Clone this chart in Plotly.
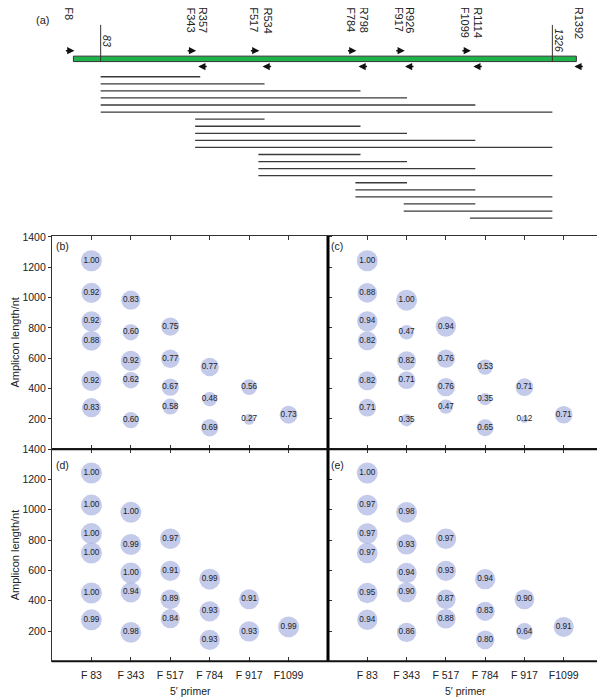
import math
import plotly.graph_objects as go

# The page body has an 8px margin, so the figure is drawn 8px right/down.
OFF = 8
W, H = 605 - OFF, 698 - OFF

# ---------------- data ----------------
fwd_names = ["F8", "F343", "F517", "F784", "F917", "F1099"]
fwd_pos = [8, 343, 517, 784, 917, 1099]
rev_names = ["R357", "R534", "R798", "R926", "R1114", "R1392"]
rev_pos = [357, 534, 798, 926, 1114, 1392]
amp_start = [83, 343, 517, 784, 917, 1099]          # 5' ends of amplicons
amp_end = [357, 534, 798, 926, 1114, 1326]          # 3' ends of amplicons
marker_pos = [83, 1326]
gene_span = [8, 1392]

categories = ["F 83", "F 343", "F 517", "F 784", "F 917", "F1099"]
y_ticks = [200, 400, 600, 800, 1000, 1200, 1400]

# values per 5' primer, amplicons from longest to shortest
vals_b = [[1.00, 0.92, 0.92, 0.88, 0.92, 0.83],
          [0.83, 0.60, 0.92, 0.62, 0.60],
          [0.75, 0.77, 0.67, 0.58],
          [0.77, 0.48, 0.69],
          [0.56, 0.27],
          [0.73]]
vals_c = [[1.00, 0.88, 0.94, 0.82, 0.82, 0.71],
          [1.00, 0.47, 0.82, 0.71, 0.35],
          [0.94, 0.76, 0.76, 0.47],
          [0.53, 0.35, 0.65],
          [0.71, 0.12],
          [0.71]]
vals_d = [[1.00, 1.00, 1.00, 1.00, 1.00, 0.99],
          [1.00, 0.99, 1.00, 0.94, 0.98],
          [0.97, 0.91, 0.89, 0.84],
          [0.99, 0.93, 0.93],
          [0.91, 0.93],
          [0.99]]
vals_e = [[1.00, 0.97, 0.97, 0.97, 0.95, 0.94],
          [0.98, 0.93, 0.94, 0.90, 0.86],
          [0.97, 0.93, 0.87, 0.88],
          [0.94, 0.83, 0.80],
          [0.90, 0.64],
          [0.91]]

# ---------------- helpers ----------------
FONT = "Liberation Sans, Arial, sans-serif"
TXT = "#222222"


def fx(px):  # window pixel -> paper fraction
    return (px - OFF) / W


def fy(py):
    return 1 - (py - OFF) / H


# schematic axis mapping (window pixels <-> nt)
SX0, SXK = 70.5, 0.3634
ROW0, ROWK = 71.3, 7.13


def row(py):
    return (py - ROW0) / ROWK


def note(px, py, text, size=10.5, angle=0):
    return dict(x=fx(px), y=fy(py), xref="paper", yref="paper", text=text,
                textangle=angle, showarrow=False, xanchor="center", yanchor="middle",
                font=dict(size=size, color=TXT, family=FONT))


fig = go.Figure()

# ---------------- panel (a) ----------------
amp_rows = []
for i, s in enumerate(amp_start):
    for j, e in enumerate(amp_end):
        if j >= i:
            amp_rows.append((s, e))

for k, (s, e) in enumerate(amp_rows):
    fig.add_trace(go.Scatter(x=[s, e], y=[k, k], mode="lines",
                             line=dict(color="#3a3a3a", width=1.3),
                             xaxis="x", yaxis="y", hoverinfo="skip"))

shapes = []
shapes.append(dict(type="rect", xref="x", yref="y", x0=gene_span[0], x1=gene_span[1],
                   y0=row(50.5), y1=row(56), fillcolor="#1db34a",
                   line=dict(color="#333333", width=1), layer="above"))
for m in marker_pos:
    shapes.append(dict(type="line", xref="x", yref="y", x0=m, x1=m,
                       y0=row(19), y1=row(56), line=dict(color="#333333", width=1),
                       layer="above"))

annotations = []
LBL_TOP = fy(-1)
for n, p in zip(fwd_names, fwd_pos):
    annotations.append(dict(x=p, xshift=1, y=row(45), xref="x", yref="y",
                            ax=-10, ay=0, text="", showarrow=True, arrowhead=2,
                            arrowsize=0.9, arrowwidth=1.6, arrowcolor="#111", standoff=0))
    annotations.append(dict(x=p, xshift=-4, y=LBL_TOP, xref="x", yref="paper", text=n,
                            textangle=90, showarrow=False, yanchor="top", xanchor="center",
                            font=dict(size=11, color=TXT, family=FONT)))
for n, p in zip(rev_names, rev_pos):
    annotations.append(dict(x=p, xshift=-2, y=row(61), xref="x", yref="y",
                            ax=10, ay=0, text="", showarrow=True, arrowhead=2,
                            arrowsize=0.9, arrowwidth=1.6, arrowcolor="#111", standoff=0))
    annotations.append(dict(x=p, xshift=3, y=LBL_TOP, xref="x", yref="paper", text=n,
                            textangle=90, showarrow=False, yanchor="top", xanchor="center",
                            font=dict(size=11, color=TXT, family=FONT)))
for m in marker_pos:
    annotations.append(dict(x=m, xshift=7, y=fy(35), xref="x", yref="paper",
                            text="<i>%d</i>" % m, textangle=90, showarrow=False,
                            yanchor="middle", xanchor="center",
                            font=dict(size=10.5, color=TXT, family=FONT)))
annotations.append(note(42, 14, "(a)", size=11))

# ---------------- bubble panels ----------------
ends_desc = sorted(amp_end, reverse=True)
panels = [("b", vals_b, "x2", "y2"), ("c", vals_c, "x3", "y3"),
          ("d", vals_d, "x4", "y4"), ("e", vals_e, "x5", "y5")]
for name, vals, xa, ya in panels:
    xs, ys, ss, ts = [], [], [], []
    for i, s in enumerate(amp_start):
        ends = ends_desc[:len(amp_end) - i]
        for e, v in zip(ends, vals[i]):
            xs.append(i)
            ys.append(e - s)
            ss.append(21 * math.sqrt(v))
            ts.append("%.2f" % v)
    fig.add_trace(go.Scatter(x=xs, y=ys, mode="markers+text", text=ts,
                             textposition="middle center",
                             textfont=dict(size=8.2, color=TXT, family=FONT),
                             marker=dict(size=ss, color="#aab3e1", line=dict(width=0)),
                             xaxis=xa, yaxis=ya, hoverinfo="skip"))

L, M, R = 52, 328, 603
T, MID, B = 232, 447, 661

label_pos = {"b": (62, 242), "c": (337, 242), "d": (62, 463), "e": (337, 463)}
for k, (px, py) in label_pos.items():
    annotations.append(note(px, py, "(%s)" % k))
for cy in [(T + MID) / 2, (MID + B) / 2]:
    annotations.append(note(15, cy, "Amplicon length/nt", size=11, angle=-90))
for cx in [(L + M) / 2, (M + R) / 2]:
    annotations.append(note(cx, 691, "5\u2032 primer"))

# frame lines
shapes.append(dict(type="line", xref="paper", yref="paper", x0=fx(M), x1=fx(M),
                   y0=fy(T), y1=fy(B), line=dict(color="#000", width=3), layer="above"))
shapes.append(dict(type="line", xref="paper", yref="paper", x0=fx(L), x1=fx(R),
                   y0=fy(MID), y1=fy(MID), line=dict(color="#111", width=2), layer="above"))
shapes.append(dict(type="line", xref="paper", yref="paper", x0=fx(L), x1=fx(R),
                   y0=fy(B), y1=fy(B), line=dict(color="#111", width=2), layer="above"))


def xax(dom, anchor, labels):
    return dict(domain=dom, anchor=anchor, range=[-1, 6], tickvals=list(range(6)),
                ticktext=categories, showticklabels=labels, ticks="inside", ticklen=4,
                tickwidth=1, tickcolor="#333", showline=True, linecolor="#333",
                linewidth=1.2, mirror="ticks", showgrid=False, zeroline=False,
                ticklabelstandoff=4,
                tickfont=dict(size=10.5, color=TXT, family=FONT), fixedrange=True)


def yax(dom, anchor, rng, labels):
    return dict(domain=dom, anchor=anchor, range=rng, tickvals=y_ticks,
                showticklabels=labels, ticks="outside" if labels else "inside",
                ticklen=3, tickwidth=1, tickcolor="#333", showline=True,
                linecolor="#333", linewidth=1.2, mirror="ticks", showgrid=False,
                zeroline=False, tickfont=dict(size=10.5, color=TXT, family=FONT),
                fixedrange=True)


xl = [fx(L), fx(M)]
xr = [fx(M), fx(R)]
yt = [fy(MID), fy(T)]
yb = [fy(B), fy(MID)]

fig.update_layout(
    width=W, height=H, margin=dict(l=0, r=0, t=0, b=0),
    paper_bgcolor="white", plot_bgcolor="white", showlegend=False,
    font=dict(family=FONT, color=TXT),
    xaxis=dict(domain=[0, 1], anchor="y", range=[(OFF - SX0) / SXK, (605 - SX0) / SXK],
               visible=False, fixedrange=True),
    yaxis=dict(domain=[fy(225), 1], anchor="x", range=[row(225), row(OFF)],
               visible=False, fixedrange=True),
    xaxis2=xax(xl, "y2", False), yaxis2=yax(yt, "x2", [0, 1406], True),
    xaxis3=xax(xr, "y3", False), yaxis3=yax(yt, "x3", [0, 1406], False),
    xaxis4=xax(xl, "y4", True), yaxis4=yax(yb, "x4", [0, 1400], True),
    xaxis5=xax(xr, "y5", True), yaxis5=yax(yb, "x5", [0, 1400], False),
    shapes=shapes, annotations=annotations,
)

fig.write_html("out.html")
